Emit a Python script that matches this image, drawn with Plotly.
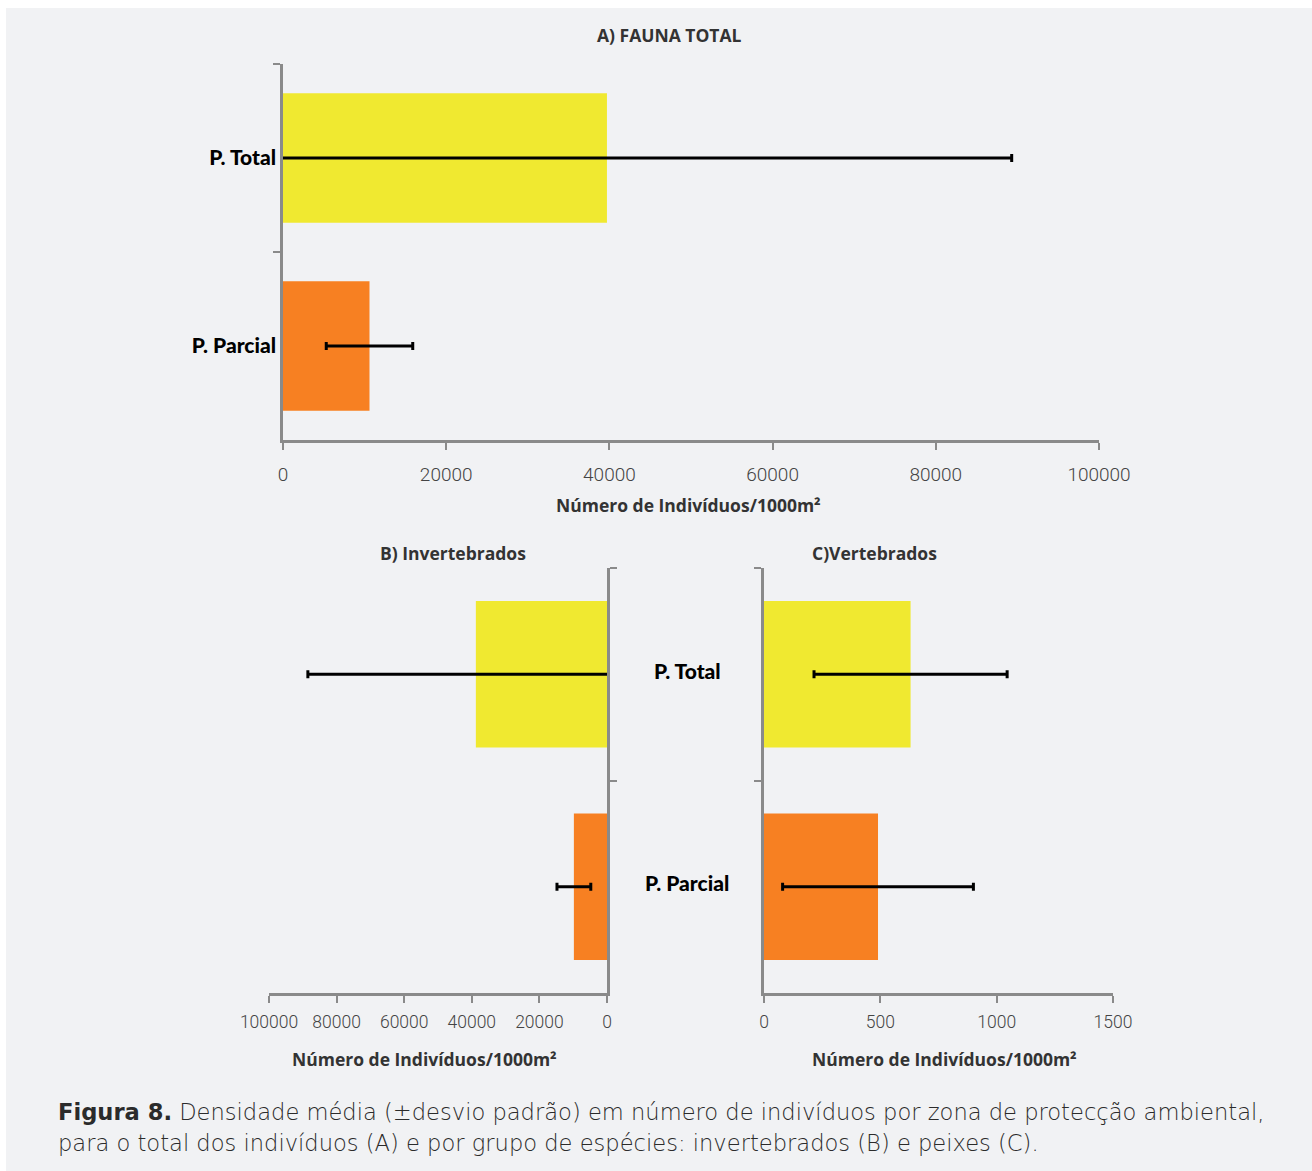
import plotly.graph_objects as go

W, H = 1312, 1171

# ---- data ----
zones = ["P. Total", "P. Parcial"]
zone_colors = ["#f0e930", "#f78022"]

fauna_mean = [39700, 10600]
fauna_sd = [49600, 5300]

invert_mean = [38800, 9800]
invert_sd = [49700, 5000]

vert_mean = [630, 490]
vert_sd = [415, 410]

axis_ticks_big = [0, 20000, 40000, 60000, 80000, 100000]
axis_ticks_small = [0, 500, 1000, 1500]
axis_title = "Número de Indivíduos/1000m²"
panel_titles = ["A) FAUNA TOTAL", "B) Invertebrados", "C)Vertebrados"]
caption_1 = "<b>Figura 8.</b> Densidade média (±desvio padrão) em número de indivíduos por zona de protecção ambiental,"
caption_2 = "para o total dos indivíduos (A) e por grupo de espécies: invertebrados (B) e peixes (C)."

AXIS_GREY = "#8a8a8a"
TICK_FONT_A = dict(family="Roboto", size=19, color="#444444", weight=300)
TICK_FONT_BC = dict(family="Roboto", size=17.5, color="#444444", weight=300)
BOLD_FONT = dict(family="Open Sans", size=17.5, color="#333333", weight=700)
CAT_FONT = dict(family="Lato", size=21, color="#000000", weight=900)
CAP_FONT = dict(family="DejaVu Sans", size=22.6, color="#2b2b2b", weight=200)


def px_x(p):
    return p / W


def px_y(p):
    return 1 - p / H


def bar(mean, sd, xa, ya):
    return go.Bar(
        y=zones, x=mean, orientation="h",
        marker=dict(color=zone_colors, line=dict(width=0)),
        error_x=dict(type="data", array=sd, visible=True,
                     color="#000000", thickness=3, width=4),
        xaxis=xa, yaxis=ya, showlegend=False, hoverinfo="x+y",
    )


fig = go.Figure()
fig.add_trace(bar(fauna_mean, fauna_sd, "x", "y"))
fig.add_trace(bar(invert_mean, invert_sd, "x2", "y2"))
fig.add_trace(bar(vert_mean, vert_sd, "x3", "y3"))

common_x = dict(showgrid=False, zeroline=False, showline=True, linecolor=AXIS_GREY,
                linewidth=2.5, ticks="outside", ticklen=7, tickwidth=2,
                tickcolor=AXIS_GREY, tickformat="d",
                automargin=False, fixedrange=True)
common_y = dict(showgrid=False, zeroline=False, showline=True, linecolor=AXIS_GREY,
                linewidth=2.5, ticks="outside", ticklen=7, tickwidth=2,
                tickcolor=AXIS_GREY, tickson="boundaries", autorange="reversed",
                type="category", automargin=False, fixedrange=True)

fig.update_layout(
    width=W, height=H, autosize=False,
    margin=dict(l=0, r=0, t=0, b=0, pad=0),
    paper_bgcolor="#ffffff",
    plot_bgcolor="rgba(0,0,0,0)",
    bargap=0.31,
    xaxis=dict(common_x, domain=[px_x(283), px_x(1099)], range=[0, 100000],
               tickvals=axis_ticks_big, anchor="y",
               tickfont=TICK_FONT_A, ticklabelstandoff=8),
    yaxis=dict(common_y, domain=[px_y(440), px_y(64)], anchor="x",
               tickfont=CAT_FONT),
    xaxis2=dict(common_x, domain=[px_x(269), px_x(607)], range=[100000, 0],
                tickvals=axis_ticks_big, anchor="y2",
                tickfont=TICK_FONT_BC, ticklabelstandoff=4),
    yaxis2=dict(common_y, domain=[px_y(993), px_y(568)], anchor="x2",
                side="right", showticklabels=False),
    xaxis3=dict(common_x, domain=[px_x(764), px_x(1113)], range=[0, 1500],
                tickvals=axis_ticks_small, anchor="y3",
                tickfont=TICK_FONT_BC, ticklabelstandoff=4),
    yaxis3=dict(common_y, domain=[px_y(993), px_y(568)], anchor="x3",
                showticklabels=False),
)

# light grey panel behind everything
fig.add_shape(type="rect", xref="paper", yref="paper",
              x0=px_x(6), x1=1, y0=0, y1=px_y(8),
              fillcolor="#f1f2f4", line=dict(width=0), layer="below")

ann = []
# panel titles
for text, cx, cy in [(panel_titles[0], 670, 35), (panel_titles[1], 453, 553),
                     (panel_titles[2], 875, 553)]:
    ann.append(dict(text=text, x=px_x(cx), y=px_y(cy), xref="paper", yref="paper",
                    showarrow=False, font=BOLD_FONT, xanchor="center", yanchor="middle"))
# axis titles
for cx, cy in [(688, 505), (424, 1059), (944, 1059)]:
    ann.append(dict(text=axis_title, x=px_x(cx), y=px_y(cy), xref="paper", yref="paper",
                    showarrow=False, font=BOLD_FONT, xanchor="center", yanchor="middle"))
# shared zone labels between panels B and C
for z in zones:
    ann.append(dict(text=z, x=px_x(687), y=z, xref="paper", yref="y3",
                    showarrow=False, font=CAT_FONT, xanchor="center", yanchor="middle",
                    yshift=4))
# caption
for text, cy in [(caption_1, 1112), (caption_2, 1143)]:
    ann.append(dict(text=text, x=px_x(56), y=px_y(cy), xref="paper", yref="paper",
                    showarrow=False, font=CAP_FONT, xanchor="left", yanchor="middle"))
fig.update_layout(annotations=ann)

fig.write_html("out.html")
